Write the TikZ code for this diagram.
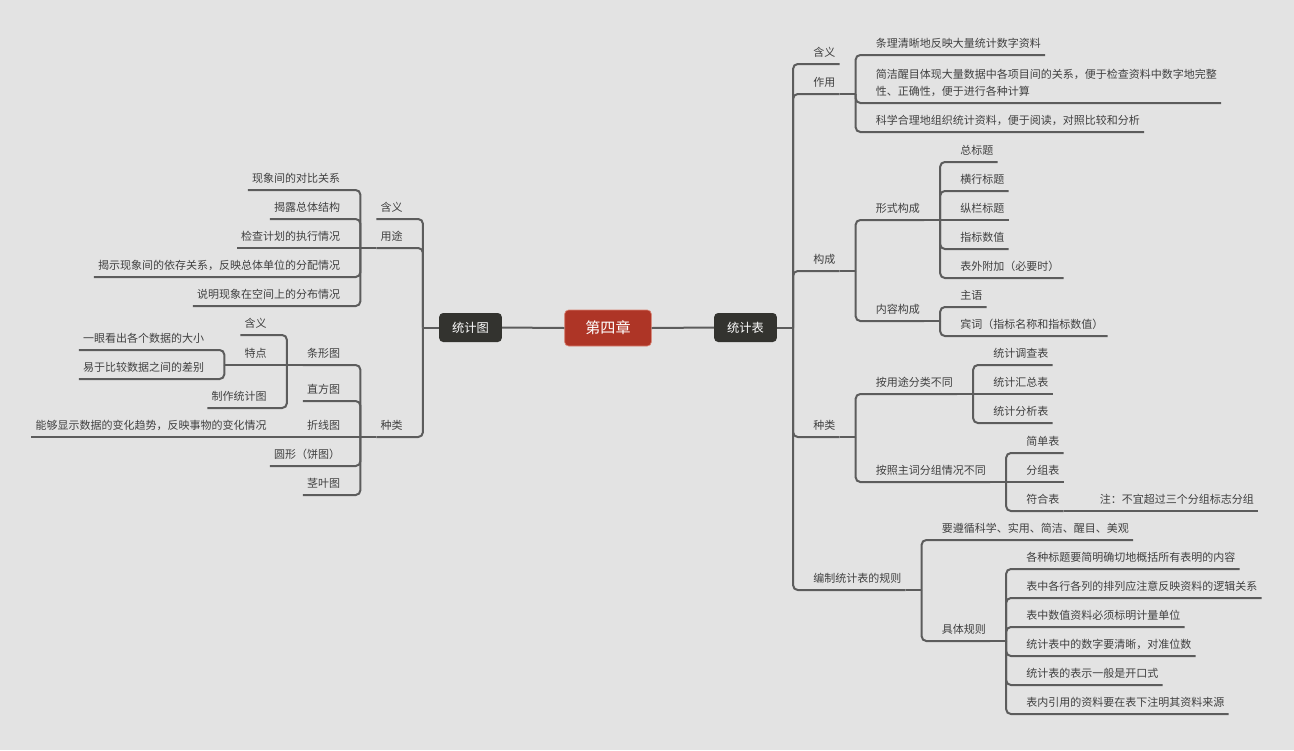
\documentclass[tikz,border=0pt]{standalone}
\usepackage{fontspec}
\setmainfont{Noto Sans CJK SC}
\usetikzlibrary{calc}
\definecolor{bgc}{HTML}{E3E3E3}
\definecolor{linec}{HTML}{5C5C5C}
\definecolor{txtc}{HTML}{404040}
\definecolor{redfill}{HTML}{AE3526}
\definecolor{redline}{HTML}{D98070}
\definecolor{darkfill}{HTML}{33332F}
\begin{document}
\begin{tikzpicture}[x=0.75pt,y=-0.75pt,
  conn/.style={draw=linec,line width=1.5pt,rounded corners=3.5pt},
  topic/.style={font=\fontsize{8.25}{12.75}\selectfont,text=txtc,inner xsep=3pt,inner ysep=5.25pt,text depth=0pt},
  tr/.style={topic,anchor=south west},
  tl/.style={topic,anchor=south east},
  darkbox/.style={fill=darkfill,rounded corners=3pt,text=white,font=\fontsize{9.2}{11}\selectfont,minimum width=47pt,minimum height=21.75pt,inner sep=0pt},
  redbox/.style={fill=redfill,draw=redline,line width=0.5pt,rounded corners=3pt,text=white,font=\fontsize{11.3}{13}\selectfont,minimum width=65pt,minimum height=27pt,inner sep=0pt}]
\fill[bgc] (0,0) rectangle (1294,750);
\useasboundingbox (0,0) rectangle (1294,750);

% central nodes
\node[redbox] (C) at (608,328) {第四章};
\node[darkbox] (R) at (745.5,327.5) {统计表};
\node[darkbox] (L) at (470.5,327.5) {统计图};
\draw[conn] (C.east) -- (R.west);
\draw[conn] (C.west) -- (L.east);

% ================= right side =================
\coordinate (jR) at ($(R.east)+(16,0)$);
\draw[conn] (R.east) -- (jR);
\node[tr] (r1) at ($(jR|-0,64)+(16,0)$) {含义};
\node[tr] (r2) at ($(jR|-0,94)+(16,0)$) {作用};
\node[tr] (r3) at ($(jR|-0,271)+(16,0)$) {构成};
\node[tr] (r4) at ($(jR|-0,437)+(16,0)$) {种类};
\node[tr] (r5) at ($(jR|-0,590)+(16,0)$) {编制统计表的规则};
\foreach \n in {r1,r2,r3,r4,r5} \draw[conn] (jR) |- (\n.south east);

% 作用
\coordinate (j2) at ($(r2.south east)+(16,0)$);
\draw[conn] (r2.south east) -- (j2);
\node[tr] (r21) at ($(j2|-0,55)+(16,0)$) {条理清晰地反映大量统计数字资料};
\node[tr,align=left] (r22) at ($(j2|-0,103)+(16,0)$) {简洁醒目体现大量数据中各项目间的关系，便于检查资料中数字地完整\\性、正确性，便于进行各种计算};
\node[tr] (r23) at ($(j2|-0,132)+(16,0)$) {科学合理地组织统计资料，便于阅读，对照比较和分析};
\foreach \n in {r21,r22,r23} \draw[conn] (j2) |- (\n.south east);

% 构成
\coordinate (j3) at ($(r3.south east)+(16,0)$);
\draw[conn] (r3.south east) -- (j3);
\node[tr] (r31) at ($(j3|-0,220)+(16,0)$) {形式构成};
\node[tr] (r32) at ($(j3|-0,321)+(16,0)$) {内容构成};
\foreach \n in {r31,r32} \draw[conn] (j3) |- (\n.south east);

\coordinate (j31) at ($(r31.south east)+(16,0)$);
\draw[conn] (r31.south east) -- (j31);
\node[tr] (r311) at ($(j31|-0,162)+(16,0)$) {总标题};
\node[tr] (r312) at ($(j31|-0,191)+(16,0)$) {横行标题};
\node[tr] (r313) at ($(j31|-0,220)+(16,0)$) {纵栏标题};
\node[tr] (r314) at ($(j31|-0,249)+(16,0)$) {指标数值};
\node[tr] (r315) at ($(j31|-0,278)+(16,0)$) {表外附加（必要时）};
\foreach \n in {r311,r312,r314,r315} \draw[conn] (j31) |- (\n.south east);
\draw[conn] (j31) -- (r313.south east);

\coordinate (j32) at ($(r32.south east)+(16,0)$);
\draw[conn] (r32.south east) -- (j32);
\node[tr] (r321) at ($(j32|-0,307)+(16,0)$) {主语};
\node[tr] (r322) at ($(j32|-0,336)+(16,0)$) {宾词（指标名称和指标数值）};
\foreach \n in {r321,r322} \draw[conn] (j32) |- (\n.south east);

% 种类
\coordinate (j4) at ($(r4.south east)+(16,0)$);
\draw[conn] (r4.south east) -- (j4);
\node[tr] (r41) at ($(j4|-0,394)+(16,0)$) {按用途分类不同};
\node[tr] (r42) at ($(j4|-0,482)+(16,0)$) {按照主词分组情况不同};
\foreach \n in {r41,r42} \draw[conn] (j4) |- (\n.south east);

\coordinate (j41) at ($(r41.south east)+(16,0)$);
\draw[conn] (r41.south east) -- (j41);
\node[tr] (r411) at ($(j41|-0,365)+(16,0)$) {统计调查表};
\node[tr] (r412) at ($(j41|-0,394)+(16,0)$) {统计汇总表};
\node[tr] (r413) at ($(j41|-0,423)+(16,0)$) {统计分析表};
\foreach \n in {r411,r413} \draw[conn] (j41) |- (\n.south east);
\draw[conn] (j41) -- (r412.south east);

\coordinate (j42) at ($(r42.south east)+(16,0)$);
\draw[conn] (r42.south east) -- (j42);
\node[tr] (r421) at ($(j42|-0,453)+(16,0)$) {简单表};
\node[tr] (r422) at ($(j42|-0,482)+(16,0)$) {分组表};
\node[tr] (r423) at ($(j42|-0,511)+(16,0)$) {符合表};
\foreach \n in {r421,r423} \draw[conn] (j42) |- (\n.south east);
\draw[conn] (j42) -- (r422.south east);

\coordinate (j423) at ($(r423.south east)+(16,0)$);
\draw[conn] (r423.south east) -- (j423);
\node[tr] (r4231) at ($(j423|-0,511)+(16,0)$) {注：不宜超过三个分组标志分组};
\draw[conn] (j423) -- (r4231.south east);

% 编制统计表的规则
\coordinate (j5) at ($(r5.south east)+(16,0)$);
\draw[conn] (r5.south east) -- (j5);
\node[tr] (r51) at ($(j5|-0,540)+(16,0)$) {要遵循科学、实用、简洁、醒目、美观};
\node[tr] (r52) at ($(j5|-0,641)+(16,0)$) {具体规则};
\foreach \n in {r51,r52} \draw[conn] (j5) |- (\n.south east);

\coordinate (j52) at ($(r52.south east)+(16,0)$);
\draw[conn] (r52.south east) -- (j52);
\node[tr] (r521) at ($(j52|-0,569)+(16,0)$) {各种标题要简明确切地概括所有表明的内容};
\node[tr] (r522) at ($(j52|-0,598)+(16,0)$) {表中各行各列的排列应注意反映资料的逻辑关系};
\node[tr] (r523) at ($(j52|-0,627)+(16,0)$) {表中数值资料必须标明计量单位};
\node[tr] (r524) at ($(j52|-0,656)+(16,0)$) {统计表中的数字要清晰，对准位数};
\node[tr] (r525) at ($(j52|-0,685)+(16,0)$) {统计表的表示一般是开口式};
\node[tr] (r526) at ($(j52|-0,714)+(16,0)$) {表内引用的资料要在表下注明其资料来源};
\foreach \n in {r521,r522,r523,r524,r525,r526} \draw[conn] (j52) |- (\n.south east);

% ================= left side =================
\coordinate (jL) at ($(L.west)+(-16,0)$);
\draw[conn] (L.west) -- (jL);
\node[tl] (l1) at ($(jL|-0,219)+(-16,0)$) {含义};
\node[tl] (l2) at ($(jL|-0,248)+(-16,0)$) {用途};
\node[tl] (l3) at ($(jL|-0,437)+(-16,0)$) {种类};
\foreach \n in {l1,l2,l3} \draw[conn] (jL) |- (\n.south west);

% 用途
\coordinate (k2) at ($(l2.south west)+(-16,0)$);
\draw[conn] (l2.south west) -- (k2);
\node[tl] (l21) at ($(k2|-0,190)+(-16,0)$) {现象间的对比关系};
\node[tl] (l22) at ($(k2|-0,219)+(-16,0)$) {揭露总体结构};
\node[tl] (l23) at ($(k2|-0,248)+(-16,0)$) {检查计划的执行情况};
\node[tl] (l24) at ($(k2|-0,277)+(-16,0)$) {揭示现象间的依存关系，反映总体单位的分配情况};
\node[tl] (l25) at ($(k2|-0,306)+(-16,0)$) {说明现象在空间上的分布情况};
\foreach \n in {l21,l22,l24,l25} \draw[conn] (k2) |- (\n.south west);
\draw[conn] (k2) -- (l23.south west);

% 种类
\coordinate (k3) at ($(l3.south west)+(-16,0)$);
\draw[conn] (l3.south west) -- (k3);
\node[tl] (l31) at ($(k3|-0,365)+(-16,0)$) {条形图};
\node[tl] (l32) at ($(k3|-0,401)+(-16,0)$) {直方图};
\node[tl] (l33) at ($(k3|-0,437)+(-16,0)$) {折线图};
\node[tl] (l34) at ($(k3|-0,466)+(-16,0)$) {圆形（饼图）};
\node[tl] (l35) at ($(k3|-0,495)+(-16,0)$) {茎叶图};
\foreach \n in {l31,l32,l34,l35} \draw[conn] (k3) |- (\n.south west);
\draw[conn] (k3) -- (l33.south west);

% 条形图
\coordinate (k31) at ($(l31.south west)+(-16,0)$);
\draw[conn] (l31.south west) -- (k31);
\node[tl] (l311) at ($(k31|-0,335)+(-16,0)$) {含义};
\node[tl] (l312) at ($(k31|-0,365)+(-16,0)$) {特点};
\node[tl] (l313) at ($(k31|-0,408)+(-16,0)$) {制作统计图};
\foreach \n in {l311,l313} \draw[conn] (k31) |- (\n.south west);
\draw[conn] (k31) -- (l312.south west);

\coordinate (k312) at ($(l312.south west)+(-16,0)$);
\draw[conn] (l312.south west) -- (k312);
\node[tl] (l3121) at ($(k312|-0,350)+(-16,0)$) {一眼看出各个数据的大小};
\node[tl] (l3122) at ($(k312|-0,379)+(-16,0)$) {易于比较数据之间的差别};
\foreach \n in {l3121,l3122} \draw[conn] (k312) |- (\n.south west);

% 折线图
\coordinate (k33) at ($(l33.south west)+(-16,0)$);
\draw[conn] (l33.south west) -- (k33);
\node[tl] (l331) at ($(k33|-0,437)+(-16,0)$) {能够显示数据的变化趋势，反映事物的变化情况};
\draw[conn] (k33) -- (l331.south west);
\end{tikzpicture}
\end{document}
